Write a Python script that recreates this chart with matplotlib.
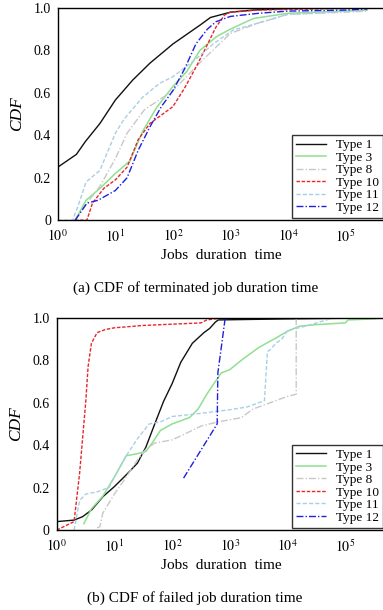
import matplotlib
matplotlib.use("Agg")
import matplotlib.pyplot as plt
from matplotlib.ticker import FixedLocator, FixedFormatter

plt.rcParams["font.family"] = ["Liberation Serif", "DejaVu Serif"]
plt.rcParams["mathtext.fontset"] = "stix"

LABELS = ["Type 1", "Type 3", "Type 8", "Type 10", "Type 11", "Type 12"]
COLORS = ["#111111", "#8fe08f", "#c8c8c8", "#e8262a", "#a9cfe6", "#1f1fe0"]

# (a) terminated jobs
term_x1 = [1, 2.1, 3, 5.4, 10, 20, 40, 100, 300, 450, 1000, 2500, 10000, 240000]
term_y1 = [0.25, 0.31, 0.37, 0.456, 0.566, 0.66, 0.74, 0.83, 0.92, 0.955, 0.98, 0.99, 0.997, 1.0]
term_x3 = [2, 3.1, 5.4, 10, 18, 30, 52, 100, 174, 295, 575, 1000, 2500, 10000, 100000, 240000]
term_y3 = [0, 0.094, 0.15, 0.22, 0.28, 0.42, 0.53, 0.63, 0.70, 0.80, 0.865, 0.90, 0.95, 0.975, 0.985, 0.99]
term_x8 = [2, 3.2, 5.4, 10, 16, 32, 100, 316, 1000, 3162, 10000, 100000, 240000]
term_y8 = [0, 0.08, 0.16, 0.29, 0.41, 0.52, 0.61, 0.75, 0.88, 0.93, 0.97, 0.98, 0.985]
term_x10 = [2, 3.2, 4, 6.3, 10, 16, 25, 40, 63, 100, 158, 251, 355, 562, 794, 1000, 3162, 240000]
term_y10 = [0, 0, 0.08, 0.15, 0.19, 0.25, 0.38, 0.456, 0.495, 0.535, 0.62, 0.72, 0.80, 0.91, 0.967, 0.98, 0.99, 1.0]
term_x11 = [1, 1.8, 2.2, 3.1, 5.4, 10, 14.5, 30, 59, 100, 229, 501, 1122, 3162, 10000, 31623, 100000, 240000]
term_y11 = [0, 0, 0.06, 0.18, 0.235, 0.41, 0.48, 0.58, 0.645, 0.676, 0.75, 0.83, 0.896, 0.93, 0.97, 0.975, 0.985, 0.99]
term_x12 = [2, 3.2, 5, 10, 16, 25, 40, 63, 100, 158, 251, 398, 562, 1000, 3162, 10000, 100000, 240000]
term_y12 = [0, 0.08, 0.094, 0.14, 0.20, 0.33, 0.44, 0.535, 0.61, 0.71, 0.83, 0.90, 0.935, 0.96, 0.975, 0.985, 0.99, 0.995]

# (b) failed jobs
fail_x1 = [1, 2, 2.8, 4, 6.3, 10, 16, 25, 35, 50, 71, 100, 141, 224, 355, 447, 562, 631, 10000, 500000]
fail_y1 = [0.04, 0.047, 0.063, 0.094, 0.157, 0.205, 0.26, 0.315, 0.39, 0.50, 0.606, 0.69, 0.79, 0.88, 0.93, 0.95, 0.98, 0.99, 0.995, 1.0]
fail_x3 = [2.95, 4, 6.3, 10, 16, 25, 35, 45, 63, 100, 200, 282, 398, 562, 708, 1000, 1585, 3162, 6310,
           10000, 15849, 31623, 100000, 112202, 316228, 500000]
fail_y3 = [0.03, 0.10, 0.16, 0.25, 0.35, 0.36, 0.37, 0.41, 0.47, 0.50, 0.53, 0.57, 0.64, 0.70, 0.74, 0.756,
           0.80, 0.86, 0.905, 0.937, 0.96, 0.968, 0.976, 0.99, 0.995, 1.0]
fail_x8 = [5, 5.6, 6.3, 10, 16, 25, 35, 50, 100, 158, 316, 631, 1000, 1585, 2512, 5012, 10000, 14125, 14125, 500000]
fail_y8 = [0.01, 0.016, 0.08, 0.17, 0.25, 0.33, 0.38, 0.41, 0.425, 0.45, 0.49, 0.51, 0.52, 0.53, 0.57, 0.60,
           0.63, 0.64, 1.0, 1.0]
fail_x10 = [1, 2, 2.5, 3.2, 3.5, 4, 5, 7, 10, 32, 100, 316, 398, 631, 832]
fail_y10 = [0, 0.04, 0.27, 0.61, 0.77, 0.88, 0.93, 0.945, 0.953, 0.964, 0.97, 0.976, 0.99, 0.997, 1.0]
fail_x11 = [2, 2.5, 3.2, 5, 8, 10, 16, 25, 40, 63, 100, 316, 1000, 1995, 3981, 4467, 5012, 6310, 7943,
            10000, 19953, 39811, 63096]
fail_y11 = [0, 0.14, 0.17, 0.18, 0.20, 0.25, 0.35, 0.43, 0.50, 0.51, 0.535, 0.55, 0.567, 0.58, 0.61, 0.84,
            0.85, 0.88, 0.90, 0.94, 0.96, 0.984, 1.0]
fail_x12 = [158, 603, 620, 832]
fail_y12 = [0.245, 0.50, 0.74, 1.0]

STYLES = [
    dict(linestyle="-", linewidth=1.0),
    dict(linestyle="-", linewidth=1.1),
    dict(linestyle=(0, (5, 1.5, 1, 1.5)), linewidth=1.0),
    dict(linestyle=(0, (2.5, 1.2)), linewidth=1.0),
    dict(linestyle=(0, (3, 1.5)), linewidth=1.0),
    dict(linestyle=(0, (5, 1.5, 1, 1.5)), linewidth=1.0),
]


def draw_panel(ax, series, caption):
    for (xs, ys), label, color, style in zip(series, LABELS, COLORS, STYLES):
        ax.plot(xs, ys, color=color, label=label, **style)
    ax.set_xscale("log")
    ax.set_xlim(1, 10 ** 5.7)
    ax.set_ylim(0, 1.0)
    ax.xaxis.set_major_locator(FixedLocator([1, 10, 100, 1000, 10000, 100000]))
    ax.xaxis.set_major_formatter(FixedFormatter([r"$10^{%d}$" % i for i in range(6)]))
    ax.xaxis.set_minor_locator(FixedLocator([]))
    ax.set_yticks([0, 0.2, 0.4, 0.6, 0.8, 1.0])
    ax.set_yticklabels(["0", "0.2", "0.4", "0.6", "0.8", "1.0"])
    ax.tick_params(labelsize=10, length=0)
    ax.tick_params(axis="x", pad=6)
    ax.tick_params(axis="y", pad=5)
    for sp in ax.spines.values():
        sp.set_linewidth(1.0)
    ax.set_ylabel("CDF", fontsize=12.5, style="italic", labelpad=6)
    ax.set_xlabel("Jobs  duration  time", fontsize=11, labelpad=3)
    leg = ax.legend(loc="lower right", bbox_to_anchor=(0.993, 0.012), borderaxespad=0,
                    fontsize=9.5, frameon=True, fancybox=False, edgecolor="black",
                    handlelength=2.3, labelspacing=0.02, borderpad=0.3, handletextpad=0.8)
    leg.get_frame().set_linewidth(1.0)
    ax.text(0.42, -0.32, caption, transform=ax.transAxes, ha="center", va="center", fontsize=11)


def main():
    fig = plt.figure(figsize=(3.83, 6.1), dpi=100)
    ax_a = fig.add_axes([0.151, 0.639, 0.856, 0.348])
    ax_b = fig.add_axes([0.148, 0.131, 0.859, 0.348])

    draw_panel(ax_a, [(term_x1, term_y1), (term_x3, term_y3), (term_x8, term_y8),
                      (term_x10, term_y10), (term_x11, term_y11), (term_x12, term_y12)],
               "(a) CDF of terminated job duration time")
    draw_panel(ax_b, [(fail_x1, fail_y1), (fail_x3, fail_y3), (fail_x8, fail_y8),
                      (fail_x10, fail_y10), (fail_x11, fail_y11), (fail_x12, fail_y12)],
               "(b) CDF of failed job duration time")

    fig.savefig("out.png", dpi=100)
    plt.close(fig)


if __name__ == "__main__":
    main()
